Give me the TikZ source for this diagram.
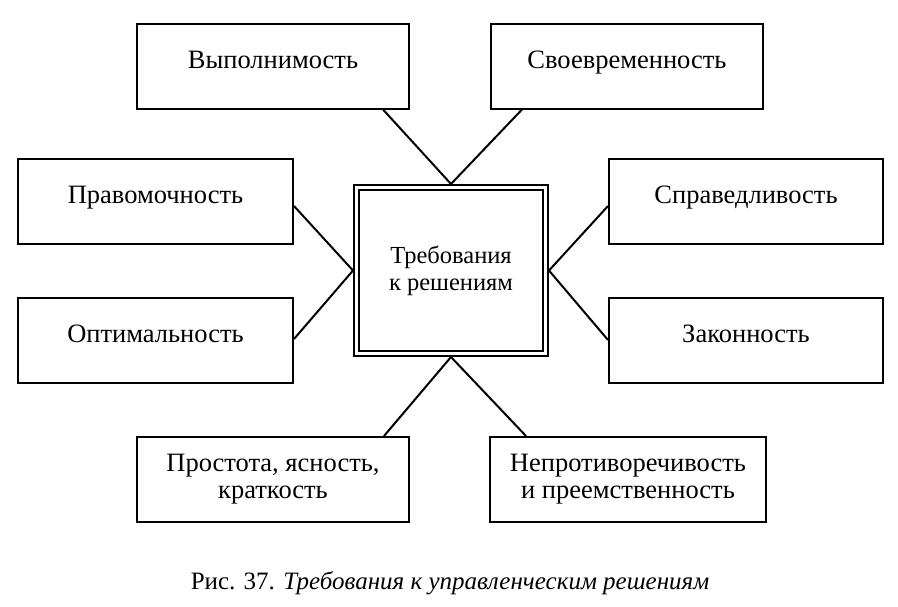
\documentclass[tikz,border=0pt]{standalone}
\usepackage{fontspec}
\setmainfont{Liberation Serif}
\begin{document}
\begin{tikzpicture}[x=1pt,y=-1pt,
  box/.style={draw, line width=2pt, minimum height=85pt, align=center, inner sep=0pt,
    font=\fontsize{26.5}{27}\selectfont},
  one/.style={text height=0.68em, text depth=0.22em},
  link/.style={line width=2pt}]
\useasboundingbox (0,0) rectangle (898,606);
\node[draw, line width=2pt, double, double distance=3pt, minimum width=189pt, minimum height=166pt,
  outer sep=3.5pt, align=center, inner sep=0pt, font=\fontsize{24.5}{27}\selectfont] (0) at (451,270.5) {Требования\\к решениям};
\node[box, one, minimum width=272pt] (1) at (273,66) {Выполнимость};
\node[box, one, minimum width=272pt] (2) at (627,66) {Своевременность};
\node[box, one, minimum width=275pt] (3) at (155.5,201.5) {Правомочность};
\node[box, one, minimum width=275pt] (4) at (155.5,340.5) {Оптимальность};
\node[box, one, minimum width=274pt] (5) at (746,201.5) {Справедливость};
\node[box, one, minimum width=274pt] (6) at (746,340.5) {Законность};
\node[box, minimum width=272pt] (7) at (273,479.5) {Простота, ясность,\\краткость};
\node[box, minimum width=276pt] (8) at (628,479.5) {Непротиворечивость\\и преемственность};
\node[font=\fontsize{25}{28}\selectfont] (cap) at (450,583) {Рис. 37. \textit{Требования к управленческим решениям}};

\path[draw,link] ([xshift=-27pt]1.south east) -- (0.north);
\path[draw,link] ([xshift=32pt]2.south west) -- (0.north);
\path[draw,link] ([yshift=-48pt]3.north east) -- (0.west);
\path[draw,link] ([yshift=-42pt]4.north east) -- (0.west);
\path[draw,link] ([yshift=-48pt]5.north west) -- (0.east);
\path[draw,link] ([yshift=-43pt]6.north west) -- (0.east);
\path[draw,link] ([xshift=-26pt]7.north east) -- (0.south);
\path[draw,link] ([xshift=37pt]8.north west) -- (0.south);
\end{tikzpicture}
\end{document}
